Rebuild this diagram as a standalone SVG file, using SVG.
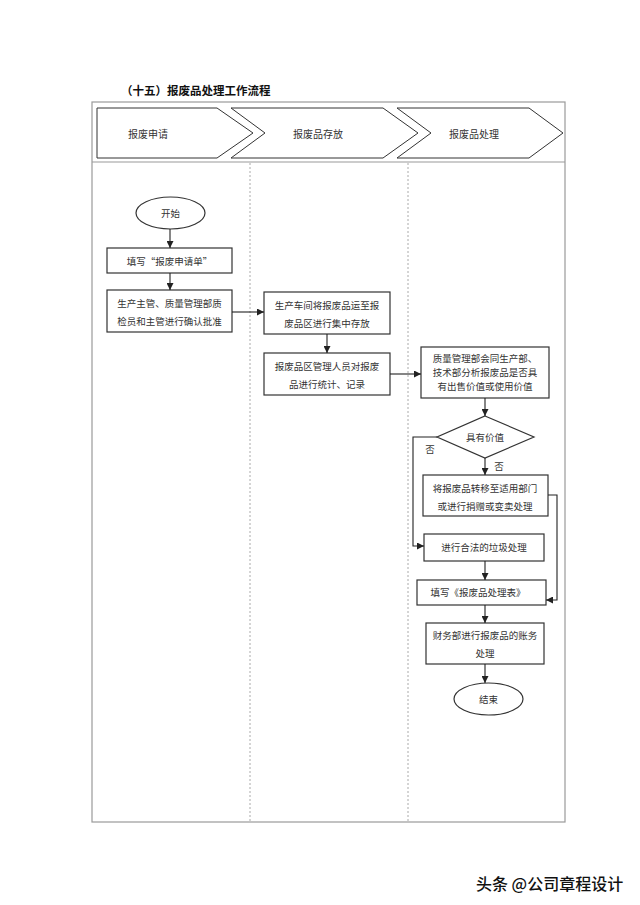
<svg xmlns="http://www.w3.org/2000/svg" width="640" height="905" viewBox="0 0 640 905">
<defs>
<marker id="ah" markerUnits="userSpaceOnUse" markerWidth="7" markerHeight="7" refX="7" refY="3.5" orient="auto">
<path d="M0,0 L7,3.5 L0,7 z" fill="#222"/>
</marker>
<style>
text{font-family:"Noto Sans CJK SC","Liberation Sans",sans-serif;fill:#333;font-size:9.5px;text-anchor:middle;dominant-baseline:central}
.title{font-size:11.5px;font-weight:bold;fill:#111;text-anchor:start}
.hdr{font-size:10px}
.frame{fill:none;stroke:#9a9a9a;stroke-width:1.2}
.lane{fill:none;stroke:#aaa;stroke-width:1;stroke-dasharray:2,2}
.chev{fill:#fff;stroke:#333;stroke-width:1}
.box{fill:#fff;stroke:#333;stroke-width:1.2}
.conn{fill:none;stroke:#222;stroke-width:1.1}
.wm{font-size:16px;fill:#111;text-anchor:start;font-weight:500}
</style>
</defs>
<rect width="640" height="905" fill="#fff"/>
<text class="title" x="121" y="90">（十五）报废品处理工作流程</text>
<g id="frame">
<rect class="frame" x="92" y="102" width="473" height="720"/>
<line class="frame" x1="92" y1="162" x2="565" y2="162"/>
<line class="lane" x1="250" y1="163" x2="250" y2="822"/>
<line class="lane" x1="408" y1="163" x2="408" y2="822"/>
</g>
<g id="header1"><polygon class="chev" points="97,108 217,108 253,133 217,158 97,158"/><text class="hdr" x="148" y="133">报废申请</text></g>
<g id="header2"><polygon class="chev" points="231,108 383,108 418,133 383,158 231,158 265,133"/><text class="hdr" x="318" y="133">报废品存放</text></g>
<g id="header3"><polygon class="chev" points="397,108 529,108 563,133 529,158 397,158 431,133"/><text class="hdr" x="474" y="133">报废品处理</text></g>
<g id="start"><ellipse class="box" cx="170.5" cy="213" rx="34.5" ry="16"/><text x="170.5" y="213">开始</text></g>
<g id="fill"><rect class="box" x="107" y="248" width="125" height="25"/><text x="169.5" y="261">填写“报废申请单”</text></g>
<g id="approve"><rect class="box" x="107" y="290" width="125" height="42"/><text x="169.5" y="303">生产主管、质量管理部质</text><text x="169.5" y="321">检员和主管进行确认批准</text></g>
<g id="store"><rect class="box" x="264" y="292" width="126" height="42"/><text x="327" y="305">生产车间将报废品运至报</text><text x="327" y="323">废品区进行集中存放</text></g>
<g id="record"><rect class="box" x="264" y="353" width="126" height="42"/><text x="327" y="366">报废品区管理人员对报废</text><text x="327" y="384">品进行统计、记录</text></g>
<g id="analyze"><rect class="box" x="421" y="347" width="128" height="51"/><text x="485" y="358">质量管理部会同生产部、</text><text x="485" y="372">技术部分析报废品是否具</text><text x="485" y="386">有出售价值或使用价值</text></g>
<g id="decision"><polygon class="box" points="485,416 534,437 485,458 437,437"/><text x="485" y="437">具有价值</text></g>
<g id="transfer"><rect class="box" x="423" y="475" width="125" height="41"/><text x="485" y="488">将报废品转移至适用部门</text><text x="485" y="506">或进行捐赠或变卖处理</text></g>
<g id="dispose"><rect class="box" x="424" y="534" width="120" height="27"/><text x="484" y="547">进行合法的垃圾处理</text></g>
<g id="form"><rect class="box" x="417" y="580" width="129" height="25"/><text x="478" y="592">填写《报废品处理表》</text></g>
<g id="finance"><rect class="box" x="426" y="623" width="118" height="41"/><text x="485" y="635">财务部进行报废品的账务</text><text x="485" y="653">处理</text></g>
<g id="end"><ellipse class="box" cx="488.5" cy="699" rx="34.5" ry="16"/><text x="488.5" y="699">结束</text></g>
<g id="connectors">
<line class="conn" x1="170" y1="229" x2="170" y2="248" marker-end="url(#ah)"/>
<line class="conn" x1="170" y1="273" x2="170" y2="290" marker-end="url(#ah)"/>
<line class="conn" x1="232" y1="312" x2="264" y2="312" marker-end="url(#ah)"/>
<line class="conn" x1="327" y1="334" x2="327" y2="353" marker-end="url(#ah)"/>
<line class="conn" x1="390" y1="374" x2="421" y2="374" marker-end="url(#ah)"/>
<line class="conn" x1="485" y1="398" x2="485" y2="416" marker-end="url(#ah)"/>
<polyline class="conn" points="437,437 413,437 413,546 424,546" marker-end="url(#ah)"/>
<text x="430" y="449">否</text>
<line class="conn" x1="485" y1="458" x2="485" y2="475" marker-end="url(#ah)"/>
<text x="499" y="466">否</text>
<polyline class="conn" points="548,495 557,495 557,600 546,600" marker-end="url(#ah)"/>
<line class="conn" x1="485" y1="561" x2="485" y2="580" marker-end="url(#ah)"/>
<line class="conn" x1="485" y1="605" x2="485" y2="623" marker-end="url(#ah)"/>
<line class="conn" x1="485" y1="664" x2="485" y2="683" marker-end="url(#ah)"/>
</g>
<text class="wm" x="476" y="883">头条 @公司章程设计</text>
</svg>
